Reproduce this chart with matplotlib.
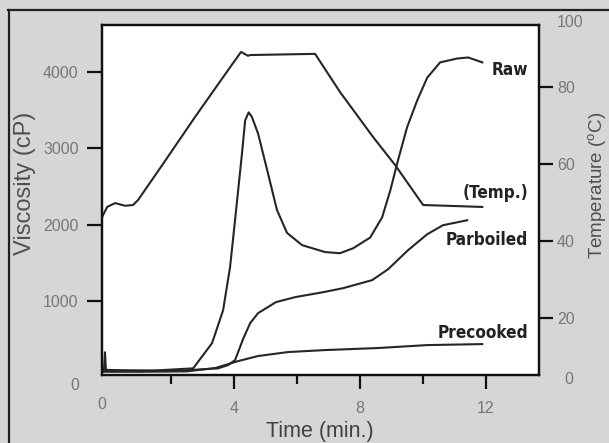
import matplotlib
matplotlib.use('Agg')
import matplotlib.pyplot as plt
from matplotlib.lines import Line2D

# ---------------- data ----------------
time_temp = [-0.18, -0.02, 0.23, 0.55, 0.80, 0.96, 1.72, 2.77, 3.82, 4.23, 4.45,
             4.52, 6.58, 7.37, 8.42, 9.12, 10.01, 11.89]
temp = [46.3, 48.9, 49.9, 49.2, 49.4, 50.7, 59.7, 72.3, 84.5, 89.2, 88.2,
        88.4, 88.7, 78.8, 67.1, 59.8, 49.4, 48.9]

time_raw = [-0.18, -0.12, -0.09, -0.06, 0.5, 1.5, 2.71, 3.31, 3.66, 3.88, 4.04,
            4.26, 4.36, 4.47, 4.57, 4.77, 5.06, 5.37, 5.69, 6.17, 6.90, 7.37,
            7.79, 8.33, 8.71, 8.97, 9.19, 9.50, 9.82, 10.14, 10.55, 11.09,
            11.44, 11.89]
raw = [110, 110, 330, 100, 95, 92, 120, 450, 880, 1440, 2060,
       2930, 3360, 3466, 3410, 3190, 2710, 2190, 1890, 1730, 1640, 1625,
       1690, 1830, 2095, 2448, 2806, 3270, 3620, 3920, 4120, 4170,
       4184, 4120]

time_parb = [-0.18, 1.0, 2.5, 3.5, 3.82, 4.04, 4.30, 4.52, 4.77, 5.34, 5.95,
             6.84, 7.47, 8.39, 8.90, 9.53, 10.14, 10.64, 11.41]
parb = [90, 85, 95, 120, 163, 228, 509, 711, 842, 986, 1051,
        1116, 1168, 1273, 1416, 1664, 1873, 1991, 2056]

time_pre = [-0.18, 1.0, 2.5, 3.41, 4.14, 4.77, 5.72, 6.90, 8.55, 10.14, 11.89]
pre = [75, 75, 80, 124, 215, 281, 333, 359, 385, 424, 437]

x_major = [4, 8, 12]
x_minor = [2, 6, 10]
visc_ticks = [1000, 2000, 3000, 4000]
temp_ticks = [20, 40, 60, 80]

series_labels = ['Raw', '(Temp.)', 'Parboiled', 'Precooked']

# ---------------- figure ----------------
plt.rcParams['font.family'] = ['Liberation Sans', 'DejaVu Sans']
plt.rcParams['mathtext.fontset'] = 'custom'
plt.rcParams['mathtext.rm'] = 'Liberation Sans'

BG = '#d6d6d6'
LINE = '#262626'
TICKC = '#777777'

fig = plt.figure(figsize=(6.09, 4.43), dpi=100, facecolor=BG)
ax = fig.add_axes([0.1667, 0.1535, 0.7184, 0.790])
ax.set_facecolor('white')

for t, v in [(time_raw, raw), (time_parb, parb), (time_pre, pre)]:
    ax.plot(t, v, color=LINE, lw=1.5, solid_joinstyle='round')

ax.set_xlim(-0.2, 13.69)
ax.set_ylim(33, 4608)

ax2 = ax.twinx()
ax2.plot(time_temp, temp, color=LINE, lw=1.5, solid_joinstyle='round')
ax2.set_ylim(5.2, 96.2)

for a in (ax, ax2):
    for s in a.spines.values():
        s.set_linewidth(1.6)
        s.set_color('#111111')

fs_tick = 11.5
ax.set_xticks(x_major)
ax.set_xticklabels([str(v) for v in x_major])
ax.set_xticks(x_minor, minor=True)
ax.tick_params(axis='x', which='major', direction='out', length=10, width=1.6,
               pad=9, labelsize=fs_tick, labelcolor=TICKC, color='#111111')
ax.tick_params(axis='x', which='minor', direction='out', length=6.5, width=1.6,
               color='#111111')
ax.set_yticks(visc_ticks)
ax.set_yticklabels([str(v) for v in visc_ticks])
ax.tick_params(axis='y', direction='out', length=11, width=1.6, pad=5.5,
               labelsize=fs_tick, labelcolor=TICKC, color='#111111')
ax2.set_yticks(temp_ticks)
ax2.set_yticklabels([str(v) for v in temp_ticks])
ax2.tick_params(axis='y', direction='out', length=10, width=1.6, pad=3,
                labelsize=fs_tick, labelcolor=TICKC, color='#111111')

# end labels without tick marks
ax.text(0.0, -0.085, '0', transform=ax.transAxes, ha='center', va='center',
        fontsize=fs_tick, color=TICKC)
ax.text(-0.06, -0.029, '0', transform=ax.transAxes, ha='center', va='center',
        fontsize=fs_tick, color=TICKC)
ax.text(1.067, -0.014, '0', transform=ax.transAxes, ha='center', va='center',
        fontsize=fs_tick, color=TICKC)
ax.text(1.072, 1.006, '100', transform=ax.transAxes, ha='center', va='center',
        fontsize=fs_tick, color=TICKC)

# series labels
for lab, yf in zip(series_labels, [0.871, 0.52, 0.386, 0.12]):
    ax.text(0.975, yf, lab, transform=ax.transAxes, ha='right', va='center',
            fontsize=12.3, fontweight='bold', fontstretch='condensed',
            family=['DejaVu Sans'], color='#222222')

# axis titles
fig.text(25 / 609, 1 - 183 / 443, 'Viscosity (cP)', rotation=90, ha='center',
         va='center', fontsize=17, color='#505050')
fig.text(320 / 609, 1 - 432 / 443, 'Time (min.)', ha='center', va='center',
         fontsize=15.5, color='#404040')
fig.text(597 / 609, 1 - 185 / 443, r'Temperature ($\mathregular{^o}$C)',
         rotation=90, ha='center', va='center', fontsize=13.5, color='#505050')

# outer frame (left and top edges)
fig.add_artist(Line2D([8.5 / 609, 8.5 / 609], [0, 1 - 9.5 / 443],
                      transform=fig.transFigure, color='#222222', lw=1.6))
fig.add_artist(Line2D([8 / 609, 1], [1 - 9.5 / 443, 1 - 9.5 / 443],
                      transform=fig.transFigure, color='#222222', lw=1.6))

fig.savefig('out.png', dpi=100, facecolor=BG)
